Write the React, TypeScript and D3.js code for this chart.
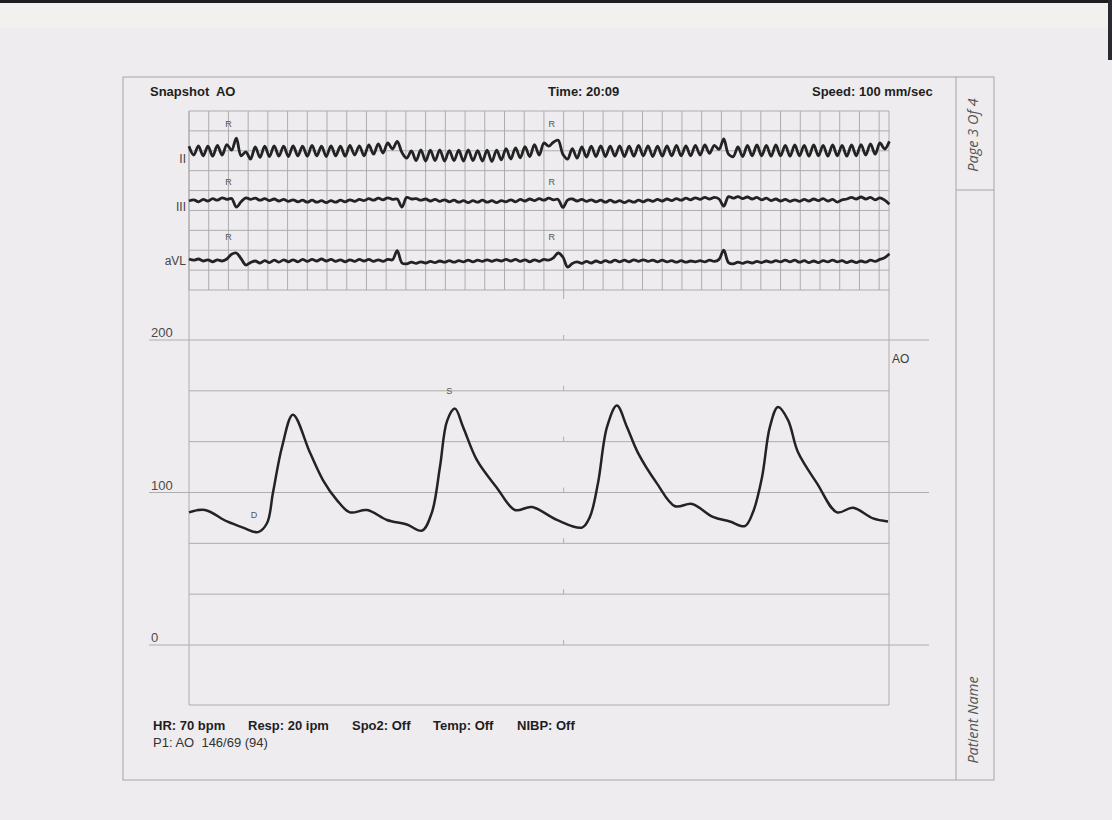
import React, { useEffect, useRef } from 'react';
import * as d3 from 'd3';

// ECG leads, mV, one sample every 0.024 s
const ecgStep = 0.024;
const leadNames = ['II', 'III', 'aVL'];

const leadII = [
  0.12, -0.1, 0.13, -0.12, 0.12, -0.13, 0.14, -0.1, 0.16, 0.02,
  0.32, -0.12, -0.02, -0.2, 0.1, -0.16, 0.12, -0.14, 0.13, -0.13,
  0.12, -0.14, 0.13, -0.12, 0.12, -0.13, 0.14, -0.12, 0.12, -0.14,
  0.13, -0.12, 0.12, -0.13, 0.14, -0.1, 0.13, -0.12, 0.15, -0.08,
  0.18, -0.05, 0.2, 0.05, 0.24, -0.04, -0.18, 0.0, -0.24, 0.03,
  -0.25, 0.02, -0.24, 0.03, -0.25, 0.01, -0.24, 0.02, -0.25, 0.03,
  -0.24, 0.01, -0.25, 0.02, -0.26, 0.02, -0.22, 0.06, -0.2, 0.08,
  -0.17, 0.11, -0.14, 0.16, -0.1, 0.2, 0.12, 0.22, 0.27, -0.08,
  -0.2, 0.06, -0.18, 0.1, -0.15, 0.12, -0.14, 0.13, -0.14, 0.12,
  -0.13, 0.13, -0.14, 0.12, -0.13, 0.14, -0.12, 0.13, -0.14, 0.12,
  -0.13, 0.13, -0.12, 0.14, -0.12, 0.13, -0.12, 0.14, -0.1, 0.15,
  -0.06, 0.14, 0.04, 0.3, -0.08, -0.14, 0.1, -0.14, 0.14, -0.12,
  0.15, -0.12, 0.14, -0.13, 0.15, -0.12, 0.14, -0.13, 0.15, -0.12,
  0.14, -0.13, 0.15, -0.12, 0.14, -0.13, 0.15, -0.12, 0.14, -0.13,
  0.15, -0.12, 0.16, -0.1, 0.18, -0.08, 0.2, 0.05, 0.24
];

const leadIII = [
  0.0, 0.03, -0.02, 0.04, 0.0, 0.06, 0.02, 0.08, 0.04, 0.06,
  -0.15, -0.02, 0.08, 0.04, 0.07, 0.02, 0.06, 0.01, 0.05, 0.0,
  0.04, -0.01, 0.03, -0.02, 0.02, -0.03, 0.02, -0.03, 0.01, -0.04,
  0.01, -0.03, 0.02, -0.02, 0.03, -0.01, 0.04, 0.01, 0.06, 0.02,
  0.07, 0.03, 0.08, 0.04, 0.05, -0.15, 0.09, 0.05, 0.06, 0.02,
  0.05, 0.0, 0.04, -0.01, 0.03, -0.02, 0.02, -0.03, 0.01, -0.04,
  0.01, -0.03, 0.02, -0.03, 0.01, -0.04, 0.01, -0.02, 0.03, -0.02,
  0.04, 0.0, 0.05, 0.01, 0.06, 0.02, 0.07, 0.03, 0.04, -0.16,
  0.02, 0.05, 0.0, 0.04, -0.01, 0.03, -0.02, 0.02, -0.03, 0.02,
  -0.03, 0.01, -0.04, 0.01, -0.03, 0.02, -0.02, 0.03, -0.01, 0.04,
  0.0, 0.05, 0.01, 0.06, 0.02, 0.07, 0.03, 0.08, 0.04, 0.09,
  0.05, 0.09, 0.05, -0.13, 0.11, 0.07, 0.11, 0.06, 0.1, 0.05,
  0.09, 0.03, 0.07, 0.01, 0.05, 0.0, 0.04, -0.01, 0.03, -0.01,
  0.04, 0.0, 0.05, 0.01, 0.06, 0.0, 0.04, -0.03, 0.03, 0.05,
  0.09, 0.05, 0.1, 0.05, 0.09, 0.03, 0.08, 0.02, -0.08
];

const leadAVL = [
  0.05, 0.02, 0.05, 0.0, 0.03, -0.02, 0.03, 0.0, 0.05, 0.17,
  0.2, 0.06, -0.1, -0.04, 0.0, -0.05, 0.01, -0.04, 0.02, -0.03,
  0.03, -0.02, 0.03, -0.02, 0.04, -0.01, 0.04, 0.0, 0.05, 0.0,
  0.04, -0.01, 0.03, -0.02, 0.03, -0.01, 0.04, 0.0, 0.04, -0.01,
  0.03, -0.01, 0.04, 0.03, 0.26, -0.05, -0.07, -0.03, -0.06, -0.02,
  -0.05, -0.01, -0.04, 0.0, -0.03, 0.01, -0.03, 0.01, -0.02, 0.02,
  -0.02, 0.02, -0.01, 0.03, -0.01, 0.03, 0.0, 0.04, 0.0, 0.04,
  -0.01, 0.03, -0.02, 0.03, -0.01, 0.04, 0.02, 0.08, 0.2, 0.1,
  -0.15, -0.06, -0.02, -0.06, -0.01, -0.05, 0.0, -0.04, 0.01, -0.03,
  0.02, -0.02, 0.02, -0.02, 0.03, -0.01, 0.03, -0.01, 0.02, -0.02,
  0.02, -0.02, 0.01, -0.03, 0.01, -0.03, 0.0, -0.02, 0.01, -0.02,
  0.02, -0.01, 0.04, 0.27, -0.04, -0.07, -0.03, -0.06, -0.02, -0.05,
  -0.01, -0.04, 0.0, -0.03, 0.01, -0.02, 0.02, -0.02, 0.02, -0.03,
  0.01, -0.04, 0.0, -0.04, 0.01, -0.02, 0.02, -0.02, 0.01, -0.04,
  0.0, -0.04, 0.0, -0.03, 0.02, -0.01, 0.04, 0.08, 0.18
];

// seconds where the R waves are annotated
const rMarks = [0.2, 1.84];

// aortic pressure, mmHg
const aoTimes = [
  0, 0.081, 0.193, 0.274, 0.35, 0.396, 0.426, 0.472, 0.527, 0.614,
  0.68, 0.75, 0.816, 0.903, 1.004, 1.105, 1.182, 1.232, 1.273, 1.309,
  1.349, 1.39, 1.461, 1.562, 1.653, 1.739, 1.866, 1.993, 2.033, 2.074,
  2.12, 2.17, 2.221, 2.277, 2.373, 2.465, 2.551, 2.657, 2.743, 2.819,
  2.86, 2.906, 2.946, 2.987, 3.038, 3.088, 3.185, 3.286, 3.367, 3.469, 3.545
];
const aoValues = [
  87, 88.5, 81, 77, 74, 80, 100, 130, 151, 126,
  108, 95, 87, 88.5, 82, 79, 75, 87, 117, 147,
  155, 143, 121, 103, 88.5, 90.5, 82, 77, 84, 106,
  143, 157, 143, 126, 106, 91, 92.5, 84, 81, 78,
  87, 110, 143, 156, 147.5, 126.5, 106, 87, 90, 83, 81
];
const pressureLabels = [0, 100, 200];
const pressureGrid = [0, 200 / 6, 400 / 6, 100, 800 / 6, 1000 / 6, 200];
const systolicMark = { t: 1.32, v: 166, text: 'S' };
const diastolicMark = { t: 0.33, v: 85, text: 'D' };

const headerTexts = ['Snapshot  AO', 'Time: 20:09', 'Speed: 100 mm/sec'];
const vitals = ['HR: 70 bpm', 'Resp: 20 ipm', 'Spo2: Off', 'Temp: Off', 'NIBP: Off'];
const pressureSummary = 'P1: AO  146/69 (94)';
const channelName = 'AO';
const pageText = 'Page 3 Of 4';
const patientText = 'Patient Name';

const App = () => {
  const chartRef = useRef<SVGSVGElement>(null);

  useEffect(() => {
    drawChart();
  }, []);

  const drawChart = () => {
    const svg = d3.select(chartRef.current);
    svg.selectAll('*').remove();

    const left = 189;
    const right = 889;
    const ecgTop = 111;
    const ecgBottom = 290;
    const plotBottom = 705;
    const gridColor = '#adadad';
    const ink = '#232323';
    const sans = '"Liberation Sans", Arial, sans-serif';

    // paper
    svg.append('rect').attr('width', 1112).attr('height', 820).attr('fill', '#eeecef');
    svg.append('rect').attr('y', 3).attr('width', 1112).attr('height', 25).attr('fill', '#f3f1ef');
    svg.append('rect').attr('width', 1112).attr('height', 3).attr('fill', '#1d1d22');
    svg.append('rect').attr('x', 1108).attr('width', 4).attr('height', 60).attr('fill', '#2a2a30');

    // page frame
    svg.append('rect')
      .attr('x', 123).attr('y', 77).attr('width', 871).attr('height', 703)
      .attr('fill', 'none').attr('stroke', '#a6a6a6');
    svg.append('line').attr('x1', 956).attr('x2', 956).attr('y1', 77).attr('y2', 780)
      .attr('stroke', '#a6a6a6');
    svg.append('line').attr('x1', 956).attr('x2', 994).attr('y1', 190).attr('y2', 190)
      .attr('stroke', '#a6a6a6');

    const x = d3.scaleLinear().domain([0, 3.55]).range([left, right]);

    // ECG grid
    const g = svg.append('g').attr('stroke', gridColor).attr('stroke-width', 1);
    d3.range(0, 3.5001, 0.1).forEach(t => {
      g.append('line').attr('x1', x(t)).attr('x2', x(t)).attr('y1', ecgTop).attr('y2', ecgBottom);
    });
    g.append('line').attr('x1', right).attr('x2', right).attr('y1', ecgTop).attr('y2', plotBottom);
    g.append('line').attr('x1', left).attr('x2', left).attr('y1', ecgTop).attr('y2', plotBottom);
    d3.range(10).forEach(k => {
      const yy = ecgTop + (k * (ecgBottom - ecgTop)) / 9;
      g.append('line').attr('x1', left).attr('x2', right).attr('y1', yy).attr('y2', yy);
    });
    g.append('line').attr('x1', left).attr('x2', right).attr('y1', plotBottom).attr('y2', plotBottom);
    g.append('line').attr('x1', x(1.9)).attr('x2', x(1.9)).attr('y1', ecgBottom).attr('y2', ecgBottom + 9);

    // pressure grid
    const y = d3.scaleLinear().domain([0, 200]).range([645, 340]);
    pressureGrid.forEach(v => {
      const long = pressureLabels.some(p => Math.abs(p - v) < 0.01);
      g.append('line')
        .attr('x1', long ? 149 : left).attr('x2', long ? 929 : right)
        .attr('y1', y(v)).attr('y2', y(v));
      g.append('line').attr('x1', x(1.9)).attr('x2', x(1.9)).attr('y1', y(v) - 5).attr('y2', y(v));
    });

    svg.selectAll('.plabel')
      .data(pressureLabels)
      .enter()
      .append('text')
      .attr('x', 151)
      .attr('y', d => y(d) - 3)
      .attr('font-family', sans)
      .attr('font-size', 13)
      .attr('fill', '#4a4a4a')
      .text(d => d);

    // ECG traces
    const baselines = [151, 201, 261];
    const labelY = [163, 211, 265];
    const rLabelY = [125, 183, 238];
    [leadII, leadIII, leadAVL].forEach((lead, li) => {
      const yl = d3.scaleLinear().domain([-1, 1]).range([baselines[li] + 40, baselines[li] - 40]);
      const line = d3.line<number>()
        .x((_, i) => x(i * ecgStep))
        .y(d => yl(d))
        .curve(d3.curveCatmullRom.alpha(0.5));
      svg.append('path')
        .attr('d', line(lead))
        .attr('fill', 'none')
        .attr('stroke', ink)
        .attr('stroke-width', 2.8)
        .attr('stroke-linejoin', 'round');
      svg.append('text')
        .attr('x', 186).attr('y', labelY[li])
        .attr('text-anchor', 'end')
        .attr('font-family', sans).attr('font-size', 12).attr('fill', '#444')
        .text(leadNames[li]);
      rMarks.forEach(t => {
        svg.append('text')
          .attr('x', x(t)).attr('y', rLabelY[li])
          .attr('text-anchor', 'middle').attr('dominant-baseline', 'middle')
          .attr('font-family', sans).attr('font-size', 9).attr('fill', '#555')
          .text('R');
      });
    });

    // pressure trace
    const pts = aoTimes.map((t, i) => [t, aoValues[i]] as [number, number]);
    const pLine = d3.line<[number, number]>()
      .x(d => x(d[0]))
      .y(d => y(d[1]))
      .curve(d3.curveCatmullRom.alpha(0.5));
    svg.append('path')
      .attr('d', pLine(pts))
      .attr('fill', 'none')
      .attr('stroke', ink)
      .attr('stroke-width', 2.5)
      .attr('stroke-linejoin', 'round');

    [systolicMark, diastolicMark].forEach(m => {
      svg.append('text')
        .attr('x', x(m.t)).attr('y', y(m.v))
        .attr('text-anchor', 'middle').attr('dominant-baseline', 'middle')
        .attr('font-family', sans).attr('font-size', 9).attr('fill', '#555')
        .text(m.text);
    });

    svg.append('text')
      .attr('x', 892).attr('y', 363)
      .attr('font-family', sans).attr('font-size', 12).attr('fill', '#3a3a3a')
      .text(channelName);

    // header and footer
    const headerX = [150, 548, 812];
    headerTexts.forEach((s, i) => {
      svg.append('text')
        .attr('x', headerX[i]).attr('y', 96)
        .attr('font-family', sans).attr('font-size', 13).attr('font-weight', 'bold')
        .attr('fill', '#1e1e1e').style('white-space', 'pre')
        .text(s);
    });
    const vitalsX = [153, 248, 352, 433, 517];
    vitals.forEach((s, i) => {
      svg.append('text')
        .attr('x', vitalsX[i]).attr('y', 730)
        .attr('font-family', sans).attr('font-size', 13).attr('font-weight', 'bold')
        .attr('fill', '#1e1e1e')
        .text(s);
    });
    svg.append('text')
      .attr('x', 153).attr('y', 747)
      .attr('font-family', sans).attr('font-size', 13)
      .attr('fill', '#333').style('white-space', 'pre')
      .text(pressureSummary);

    // side panel
    [[pageText, 135], [patientText, 720]].forEach(([s, cy]) => {
      svg.append('text')
        .attr('transform', `translate(974,${cy}) rotate(-90)`)
        .attr('text-anchor', 'middle').attr('dominant-baseline', 'middle')
        .attr('font-family', '"Open Sans", sans-serif').attr('font-style', 'italic')
        .attr('font-size', 14.5).attr('fill', '#555')
        .text(s as string);
    });
  };

  return (
    <svg
      ref={chartRef}
      width={1112}
      height={820}
      style={{ position: 'absolute', left: 0, top: 0, display: 'block' }}
    ></svg>
  );
};

export default App;
